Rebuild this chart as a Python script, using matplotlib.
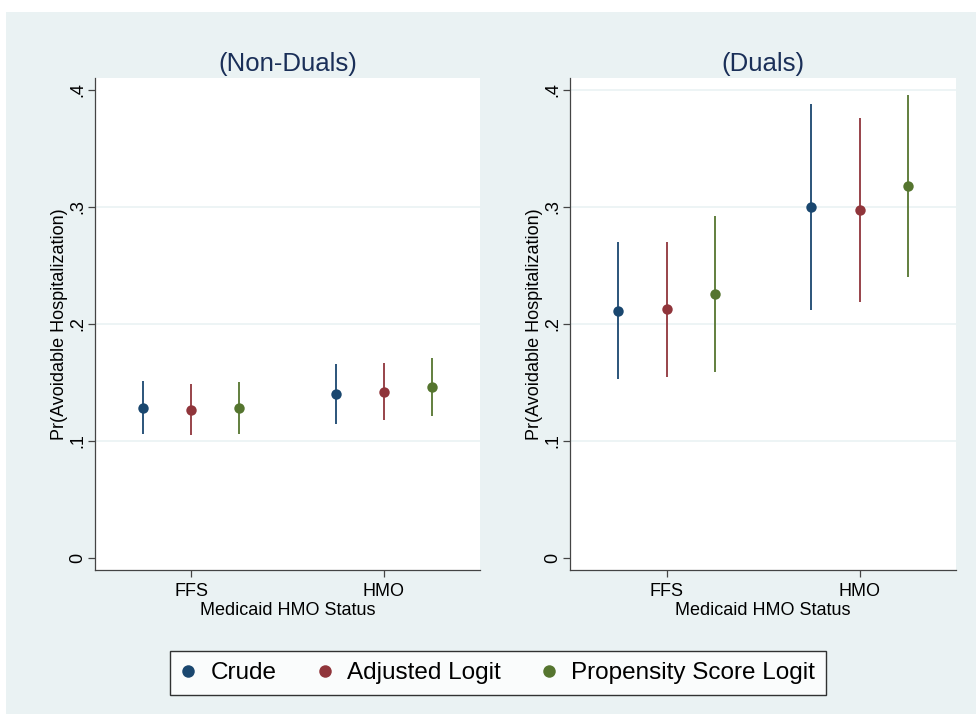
import numpy as np
import matplotlib.pyplot as plt
from matplotlib.lines import Line2D
from matplotlib.patches import Rectangle

plt.rcParams['font.family'] = ['Liberation Sans', 'DejaVu Sans']

# Data
groups = ['FFS', 'HMO']
methods = ['Crude', 'Adjusted Logit', 'Propensity Score Logit']
colors = ['#1A476F', '#90353B', '#55752F']

# Non-duals: point estimate, lower, upper  (rows = method, cols = FFS/HMO)
nd_est = [[0.1285, 0.1404], [0.1268, 0.1422], [0.1282, 0.1462]]
nd_lo = [[0.1057, 0.1145], [0.1051, 0.1182], [0.1057, 0.1214]]
nd_hi = [[0.1513, 0.1658], [0.1484, 0.1664], [0.1501, 0.1709]]

# Duals
du_est = [[0.2114, 0.3000], [0.2125, 0.2977], [0.2256, 0.3180]]
du_lo = [[0.1527, 0.2120], [0.1550, 0.2191], [0.1587, 0.2404]]
du_hi = [[0.2698, 0.3878], [0.2698, 0.3761], [0.2923, 0.3957]]

yticks = [0, 0.1, 0.2, 0.3, 0.4]
ytick_labels = ['0', '.1', '.2', '.3', '.4']

bg = '#EAF2F3'
fig = plt.figure(figsize=(9.76, 7.14), dpi=100, facecolor='white')
fig.patches.append(Rectangle((6 / 976, 0), 1, 1 - 12 / 714, transform=fig.transFigure,
                             facecolor=bg, edgecolor='none', zorder=-10))

ax_l = fig.add_axes([95 / 976, 144 / 714, 385 / 976, 492 / 714])
ax_r = fig.add_axes([570 / 976, 144 / 714, 386 / 976, 492 / 714])

offsets = [-0.25, 0, 0.25]
x = np.arange(1, len(groups) + 1)


def draw_panel(ax, est, lo, hi, title, grid_levels):
    ax.set_facecolor('white')
    for g in grid_levels:
        ax.axhline(g, color=bg, lw=1.2, zorder=0)
    for i in range(len(methods)):
        xs = x + offsets[i]
        ax.vlines(xs, lo[i], hi[i], color=colors[i], lw=1.3, zorder=2)
        ax.plot(xs, est[i], 'o', color=colors[i], ms=7.5, mec='none', zorder=3)
    ax.set_xlim(0.5, 2.5)
    ax.set_ylim(-0.0103, 0.4103)
    ax.set_xticks(x)
    ax.set_xticklabels(groups, fontsize=13)
    ax.set_yticks(yticks)
    ax.set_yticklabels(ytick_labels, fontsize=13, rotation=90, va='center')
    ax.tick_params(axis='both', length=5, width=0.9, color='#444444')
    ax.tick_params(axis='x', pad=4)
    ax.tick_params(axis='y', pad=1)
    for s in ['top', 'right']:
        ax.spines[s].set_visible(False)
    for s in ['left', 'bottom']:
        ax.spines[s].set_color('#444444')
        ax.spines[s].set_linewidth(0.9)
    ax.set_xlabel('Medicaid HMO Status', fontsize=13, labelpad=2)
    ax.set_ylabel('Pr(Avoidable Hospitalization)', fontsize=13, labelpad=1)
    ax.set_title(title, fontsize=18.5, color='#1A2F58', pad=5)


draw_panel(ax_l, nd_est, nd_lo, nd_hi, '(Non-Duals)', [0.1, 0.2, 0.3])
draw_panel(ax_r, du_est, du_lo, du_hi, '(Duals)', [0.1, 0.2, 0.3, 0.4])

handles = [Line2D([], [], ls='none', marker='o', color=c, ms=9, mec='none') for c in colors]
leg = fig.legend(handles, methods, loc='center', bbox_to_anchor=(498 / 976, 1 - 673 / 714),
                 ncol=3, fontsize=17.5, frameon=True, fancybox=False, handlelength=0.6,
                 handletextpad=0.6, columnspacing=1.7, borderpad=0.45, borderaxespad=0)
leg.get_frame().set_edgecolor('black')
leg.get_frame().set_linewidth(1.0)
leg.get_frame().set_facecolor('white')

fig.savefig('out.png', dpi=100, facecolor=fig.get_facecolor())
